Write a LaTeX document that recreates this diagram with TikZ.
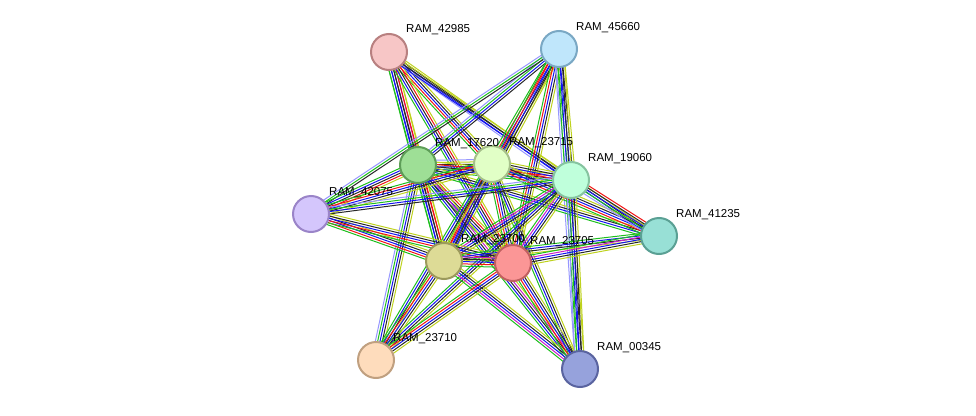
\documentclass[tikz,border=0pt]{standalone}
\usepackage{fontspec}
\setmainfont{Liberation Sans}
\usetikzlibrary{calc}
\definecolor{eg}{RGB}{30,190,30}
\definecolor{eb}{RGB}{20,20,240}
\definecolor{ek}{RGB}{40,40,40}
\definecolor{er}{RGB}{240,20,20}
\definecolor{ey}{RGB}{190,210,30}
\definecolor{em}{RGB}{200,30,200}
\definecolor{el}{RGB}{150,150,255}
\tikzset{
  prot/.style={circle,minimum size=36pt,inner sep=0pt,line width=2pt},
  lab/.style={anchor=south west,font=\fontsize{11.5}{12}\selectfont,inner sep=1pt},
  eline/.style={line width=1pt}
}
\newcommand\bund[3]{%
  \foreach \c [count=\i] in {#3}{%
    \pgfmathsetmacro\o{(\i-3)*2.3}%
    \draw[eline,\c] ($(#1)!\o pt!90:(#2)$) -- ($(#2)!\o pt!-90:(#1)$);}}
\begin{document}
\begin{tikzpicture}[x=1pt,y=-1pt]
\useasboundingbox (0,0) rectangle (976,415);
\coordinate (a) at (389,52);
\coordinate (b) at (559,49);
\coordinate (c) at (418,165);
\coordinate (d) at (492,164);
\coordinate (e) at (571,180);
\coordinate (f) at (311,214);
\coordinate (g) at (659,236);
\coordinate (h) at (444,261);
\coordinate (i) at (513,263);
\coordinate (j) at (376,360);
\coordinate (k) at (580,369);
% edges
\bund{a}{c}{eg,eb,ek,em,ey}
\bund{a}{d}{eg,er,eb,ek,ey}
\bund{a}{h}{eg,eb,ek,er,ey}
\bund{a}{i}{eg,eb,ek,er,ey}
\bund{a}{e}{el,eb,ek,ey}
\bund{a}{g}{eb,ek,ey}
\bund{b}{c}{el,eg,eb,ek}
\bund{b}{d}{eg,er,eb,ek,ey}
\bund{b}{h}{eg,er,eb,ek,ey}
\bund{b}{i}{eg,er,eb,ek,ey}
\bund{b}{e}{el,eg,eb,ek,ey}
\bund{b}{k}{el,eg,eb,ek,ey}
\bund{b}{f}{el,eg,ek}
\bund{c}{d}{eg,eb,ek,ey,el}
\bund{c}{e}{eg,eb,ek,er,ey}
\bund{c}{f}{eg,eb,ek,er,ey}
\bund{c}{g}{eg,eb,ek,ey}
\bund{c}{h}{eg,eb,ek,er,ey}
\bund{c}{i}{eg,eb,ek,er,ey}
\bund{c}{j}{el,eg,eb,ek,ey}
\bund{c}{k}{eg,eb,ek,em,ey}
\bund{d}{e}{eg,er,eb,ek,ey}
\bund{d}{f}{eg,er,eb,ek,ey}
\bund{d}{g}{eg,er,eb,ek,ey}
\bund{d}{h}{eg,er,eb,ek,eb}
\bund{d}{i}{eg,er,eb,ek,ey}
\bund{d}{j}{eg,eb,ek,ey}
\bund{d}{k}{eg,eb,ek,ey}
\bund{e}{f}{el,eg,eb,ek}
\bund{e}{g}{el,eg,eb,ek,er}
\bund{e}{h}{eg,em,eb,ek,ey}
\bund{e}{i}{eg,em,eb,ek,ey}
\bund{e}{j}{eg,eb,ek,ey}
\bund{e}{k}{el,eg,eb,ek,ey}
\bund{f}{h}{eg,er,eb,ek,ey}
\bund{f}{i}{eg,er,eb,ek,ey}
\bund{g}{h}{eg,eb,ek,ey}
\bund{g}{i}{eg,em,eb,ek,ey}
\bund{h}{i}{eg,er,eb,ek,em}
\bund{h}{j}{eg,er,eb,ek,ey}
\bund{h}{k}{eg,em,eb,ek,ey}
\bund{i}{j}{eg,er,eb,ek,ey}
\bund{i}{k}{eg,er,eb,ek,ey}
% nodes
\node[prot,fill={rgb,255:red,247;green,198;blue,198},draw={rgb,255:red,184;green,128;blue,128}] (A) at (a) {};
\node[prot,fill={rgb,255:red,191;green,230;blue,251},draw={rgb,255:red,122;green,168;blue,196}] (B) at (b) {};
\node[prot,fill={rgb,255:red,158;green,223;blue,150},draw={rgb,255:red,94;green,158;blue,88}] (C) at (c) {};
\node[prot,fill={rgb,255:red,225;green,255;blue,198},draw={rgb,255:red,166;green,192;blue,138}] (D) at (d) {};
\node[prot,fill={rgb,255:red,191;green,255;blue,219},draw={rgb,255:red,134;green,196;blue,160}] (E) at (e) {};
\node[prot,fill={rgb,255:red,212;green,198;blue,252},draw={rgb,255:red,154;green,132;blue,200}] (F) at (f) {};
\node[prot,fill={rgb,255:red,152;green,224;blue,214},draw={rgb,255:red,90;green,160;blue,148}] (G) at (g) {};
\node[prot,fill={rgb,255:red,221;green,219;blue,150},draw={rgb,255:red,156;green,154;blue,92}] (H) at (h) {};
\node[prot,fill={rgb,255:red,251;green,150;blue,150},draw={rgb,255:red,192;green,96;blue,96}] (I) at (i) {};
\node[prot,fill={rgb,255:red,254;green,220;blue,188},draw={rgb,255:red,192;green,160;blue,128}] (J) at (j) {};
\node[prot,fill={rgb,255:red,150;green,162;blue,220},draw={rgb,255:red,90;green,100;blue,160}] (K) at (k) {};
% labels
\node[lab] (LA) at ($(a)+(16,-16)$) {RAM\_42985};
\node[lab] (LB) at ($(b)+(16,-15)$) {RAM\_45660};
\node[lab] (LC) at ($(c)+(16,-15)$) {RAM\_17620};
\node[lab] (LD) at ($(d)+(16,-15)$) {RAM\_23715};
\node[lab] (LE) at ($(e)+(16,-15)$) {RAM\_19060};
\node[lab] (LF) at ($(f)+(17,-15)$) {RAM\_42075};
\node[lab] (LG) at ($(g)+(16,-15)$) {RAM\_41235};
\node[lab] (LH) at ($(h)+(16,-15)$) {RAM\_23700};
\node[lab] (LI) at ($(i)+(16,-15)$) {RAM\_23705};
\node[lab] (LJ) at ($(j)+(16,-15)$) {RAM\_23710};
\node[lab] (LK) at ($(k)+(16,-15)$) {RAM\_00345};
\end{tikzpicture}
\end{document}
